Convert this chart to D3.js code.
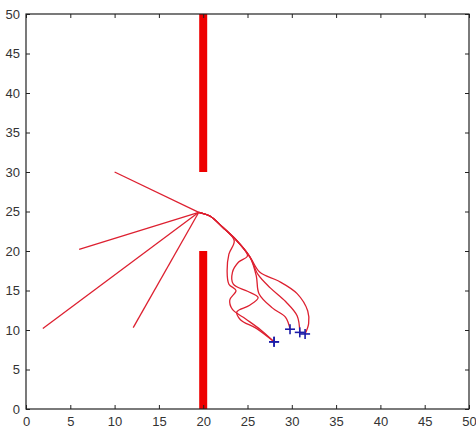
<!DOCTYPE html>
<html>
<head>
<meta charset="utf-8">
<script src="https://cdn.jsdelivr.net/npm/d3@7"></script>
<style>
  body { margin: 0; background: #fff; }
  text { font-family: "Liberation Sans", Arial, sans-serif; }
</style>
</head>
<body>
<div id="chart"></div>
<script>
// Chart size and margins (plot box runs from x=26 to 469, y=14 to 409)
const width = 476,
      height = 431;
const margin = { top: 14, right: 7, bottom: 22, left: 26 };

// Tick values for both axes
const xTicks = [0, 5, 10, 15, 20, 25, 30, 35, 40, 45, 50];
const yTicks = [0, 5, 10, 15, 20, 25, 30, 35, 40, 45, 50];

// Obstacle walls at x = 20 (gap between y = 20 and y = 30)
const walls = [
  { x: 20, y0: 0, y1: 20 },
  { x: 20, y0: 30, y1: 50 }
];

// Straight approach legs: start point -> meeting point near the gap
const meetPoint = [19.5, 24.9];
const startPoints = [[10, 30], [6, 20.2], [1.9, 10.2], [12.1, 10.3]];

// Curved legs after passing the gap, each ends at a target (blue cross)
const trajA = [[19.5, 24.9], [20.8, 24.4], [22.2, 23.0], [23.5, 21.3], [22.9, 19.6], [22.7, 17.5], [22.9, 15.8], [23.7, 15.0], [23.0, 13.8], [23.3, 12.6], [24.8, 11.4], [26.5, 10.0], [28.0, 8.5]];
const trajB = [[19.5, 24.9], [20.8, 24.4], [22.2, 23.0], [23.8, 21.3], [25.0, 19.4], [24.0, 18.6], [23.3, 17.3], [23.4, 15.8], [25.0, 14.9], [26.2, 14.1], [25.2, 13.1], [23.8, 12.3], [24.2, 11.3], [26.0, 10.2], [28.0, 8.5]];
const trajC = [[19.5, 24.9], [20.8, 24.4], [22.2, 23.0], [23.8, 21.3], [25.3, 19.2], [26.4, 17.3], [28.5, 16.2], [30.6, 14.6], [31.8, 12.4], [31.9, 10.8], [31.5, 9.5]];
const trajD = [[19.5, 24.9], [20.8, 24.4], [22.2, 23.0], [23.8, 21.3], [25.3, 19.2], [26.2, 17.0], [27.6, 15.3], [29.3, 13.6], [30.6, 11.8], [30.9, 9.7]];
const trajE = [[19.5, 24.9], [20.8, 24.4], [22.2, 23.0], [23.8, 21.3], [25.3, 19.2], [26.0, 16.8], [26.3, 14.6], [27.8, 12.8], [29.3, 11.6], [29.8, 10.1]];
const trajectories = [trajA, trajB, trajC, trajD, trajE];

// Create the SVG container
const svg = d3.select("#chart")
  .append("svg")
  .attr("width", width)
  .attr("height", height);

// Scales
const xScale = d3.scaleLinear().domain([0, 50]).range([margin.left, width - margin.right]);
const yScale = d3.scaleLinear().domain([0, 50]).range([height - margin.bottom, margin.top]);

// Walls
svg.selectAll(".wall")
  .data(walls)
  .enter()
  .append("line")
  .attr("class", "wall")
  .attr("x1", d => xScale(d.x))
  .attr("x2", d => xScale(d.x))
  .attr("y1", d => yScale(d.y0))
  .attr("y2", d => yScale(d.y1))
  .attr("stroke", "#ee0000")
  .attr("stroke-width", 8);

const lineColor = "#dd2030";

// Straight approach legs
svg.selectAll(".leg")
  .data(startPoints)
  .enter()
  .append("line")
  .attr("class", "leg")
  .attr("x1", d => xScale(d[0]))
  .attr("y1", d => yScale(d[1]))
  .attr("x2", xScale(meetPoint[0]))
  .attr("y2", yScale(meetPoint[1]))
  .attr("stroke", lineColor)
  .attr("stroke-width", 1.3);

// Curved legs
const curve = d3.line()
  .x(d => xScale(d[0]))
  .y(d => yScale(d[1]))
  .curve(d3.curveCatmullRom.alpha(0.5));

svg.selectAll(".traj")
  .data(trajectories)
  .enter()
  .append("path")
  .attr("class", "traj")
  .attr("d", curve)
  .attr("fill", "none")
  .attr("stroke", lineColor)
  .attr("stroke-width", 1.3);

// Target crosses at each trajectory end
const targets = trajectories.map(t => t[t.length - 1]);
const cross = svg.selectAll(".target")
  .data(targets)
  .enter()
  .append("g")
  .attr("class", "target")
  .attr("transform", d => `translate(${xScale(d[0])},${yScale(d[1])})`);
cross.append("line").attr("x1", -5).attr("x2", 5).attr("y1", 0).attr("y2", 0)
  .attr("stroke", "#1c1ca8").attr("stroke-width", 1.6);
cross.append("line").attr("x1", 0).attr("x2", 0).attr("y1", -5).attr("y2", 5)
  .attr("stroke", "#1c1ca8").attr("stroke-width", 1.6);

// Axes (MATLAB style: inward ticks on all four sides)
const tickLen = 4;
svg.append("g")
  .attr("transform", `translate(0, ${height - margin.bottom})`)
  .call(d3.axisBottom(xScale).tickValues(xTicks).tickSize(-tickLen).tickPadding(8))
  .call(g => g.select(".domain").remove());
svg.append("g")
  .attr("transform", `translate(${margin.left}, 0)`)
  .call(d3.axisLeft(yScale).tickValues(yTicks).tickSize(-tickLen).tickPadding(6))
  .call(g => g.select(".domain").remove());
svg.append("g")
  .attr("transform", `translate(0, ${margin.top})`)
  .call(d3.axisTop(xScale).tickValues(xTicks).tickSize(-tickLen).tickFormat(""))
  .call(g => g.select(".domain").remove());
svg.append("g")
  .attr("transform", `translate(${width - margin.right}, 0)`)
  .call(d3.axisRight(yScale).tickValues(yTicks).tickSize(-tickLen).tickFormat(""))
  .call(g => g.select(".domain").remove());

svg.selectAll(".tick text")
  .attr("font-size", 13)
  .attr("fill", "#333");
svg.selectAll(".tick line")
  .attr("stroke", "#222");

// Plot box
svg.append("rect")
  .attr("x", margin.left)
  .attr("y", margin.top)
  .attr("width", width - margin.left - margin.right)
  .attr("height", height - margin.top - margin.bottom)
  .attr("fill", "none")
  .attr("stroke", "#222")
  .attr("stroke-width", 1.2);
</script>
</body>
</html>
